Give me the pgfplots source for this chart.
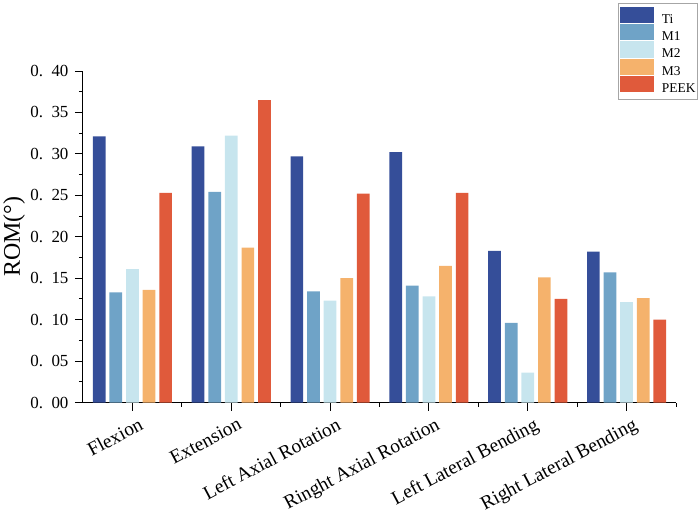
\documentclass[border=0pt]{standalone}
\usepackage{pgfplots}
\pgfplotsset{compat=1.18}
\usepackage{fontspec}
\setmainfont{Liberation Serif}
\definecolor{cTi}{HTML}{354E99}
\definecolor{cMa}{HTML}{6FA3C7}
\definecolor{cMb}{HTML}{C7E5EE}
\definecolor{cMc}{HTML}{F5B26C}
\definecolor{cPK}{HTML}{E05A3B}
\newcommand{\yl}[1]{0.\hspace{0.5em}#1}
\begin{document}
\begin{tikzpicture}
\path[use as bounding box] (-83bp,-115.5bp) rectangle (616bp,402.5bp);
\begin{axis}[
  at={(0,0)}, anchor=south west,
  scale only axis, width=593bp, height=331.5bp,
  xmin=-0.5, xmax=5.5, ymin=0, ymax=0.4,
  axis lines*=left,
  axis line style={line width=1bp, black},
  ybar=3.9bp, bar width=12.7bp,
  xtick={0,1,2,3,4,5},
  xticklabels={Flexion,Extension,Left Axial Rotation,Ringht Axial Rotation,Left Lateral Bending,Right Lateral Bending},
  minor xtick={0.5,1.5,2.5,3.5,4.5,5.5},
  ytick={0,0.05,0.1,0.15,0.2,0.25,0.3,0.35,0.4},
  yticklabels={\yl{00},\yl{05},\yl{10},\yl{15},\yl{20},\yl{25},\yl{30},\yl{35},\yl{40}},
  minor ytick={0.025,0.075,0.125,0.175,0.225,0.275,0.325,0.375},
  tick align=outside, major tick length=8bp, minor tick length=4bp,
  tick style={black, line width=1bp},
  xticklabel style={rotate=28, anchor=north east, xshift=3bp, yshift=-7bp, inner sep=1bp, font=\fontsize{19.5}{19.5}\selectfont},
  yticklabel style={font=\fontsize{17}{17}\selectfont, xshift=-3bp},
  ylabel={ROM(°)},
  ylabel style={at={(rel axis cs:-0.116,0.5)}, anchor=center, font=\fontsize{24}{24}\selectfont},
  legend style={at={(0.9025,1.2055)}, anchor=north west, draw=gray!70, line width=0.6bp,
    font=\fontsize{13.5}{13.5}\selectfont, inner xsep=1.5bp, inner ysep=3.5bp, row sep=-2.2bp,
    nodes={inner sep=0bp, text height=10.5bp, text depth=3bp},
    /tikz/every odd column/.append style={column sep=8bp}},
  legend image code/.code={\fill (0bp,-3.5bp) rectangle (34bp,12.8bp);},
  legend cell align=left,
]
\addplot[fill=cTi, draw=none] coordinates {(0,0.321) (1,0.309) (2,0.297) (3,0.302) (4,0.183) (5,0.182)};
\addplot[fill=cMa, draw=none] coordinates {(0,0.133) (1,0.254) (2,0.134) (3,0.141) (4,0.096) (5,0.157)};
\addplot[fill=cMb, draw=none] coordinates {(0,0.161) (1,0.322) (2,0.123) (3,0.128) (4,0.036) (5,0.121)};
\addplot[fill=cMc, draw=none] coordinates {(0,0.136) (1,0.187) (2,0.150) (3,0.165) (4,0.151) (5,0.126)};
\addplot[fill=cPK, draw=none] coordinates {(0,0.253) (1,0.365) (2,0.252) (3,0.253) (4,0.125) (5,0.100)};
\legend{Ti,M1,M2,M3,PEEK}
\end{axis}
\end{tikzpicture}
\end{document}
